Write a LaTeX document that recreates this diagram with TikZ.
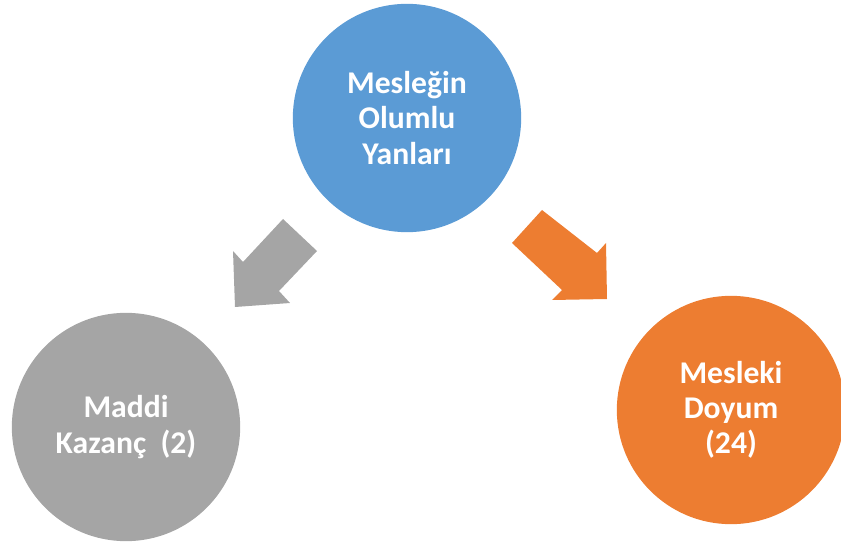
\documentclass[tikz,border=0pt]{standalone}
\usepackage{fontspec}
\setmainfont{Carlito}
\usetikzlibrary{positioning}
\definecolor{topblue}{HTML}{5B9BD5}
\definecolor{midgray}{HTML}{A5A5A5}
\definecolor{warmorange}{HTML}{ED7D31}
\tikzset{bubble/.style={circle,minimum size=6.85cm,inner sep=0pt,text=white,align=center,font=\fontsize{27}{30}\selectfont\bfseries},blockarrow/.style={draw=none}}
\begin{document}
\begin{tikzpicture}[x=0.03cm,y=-0.03cm]
\useasboundingbox (0,0) rectangle (841,542);
\node[bubble,fill=topblue] (olumlu) at (407,118){Mesleğin\\Olumlu\\Yanları};
\node[bubble,fill=midgray] (maddi) at (126,427){Maddi\\Kazanç \ (2)};
\node[bubble,fill=warmorange] (doyum) at (731,410){Mesleki\\Doyum\\(24)};
\fill[blockarrow,midgray] (283,219)--(317,251)--(279,291)--(290,303)--(235,307)--(233,251)--(243,262)--cycle;
\fill[blockarrow,warmorange] (542,210)--(512,243)--(562,290)--(552,300)--(607,299)--(606,243)--(597,253)--cycle;
\end{tikzpicture}
\end{document}
